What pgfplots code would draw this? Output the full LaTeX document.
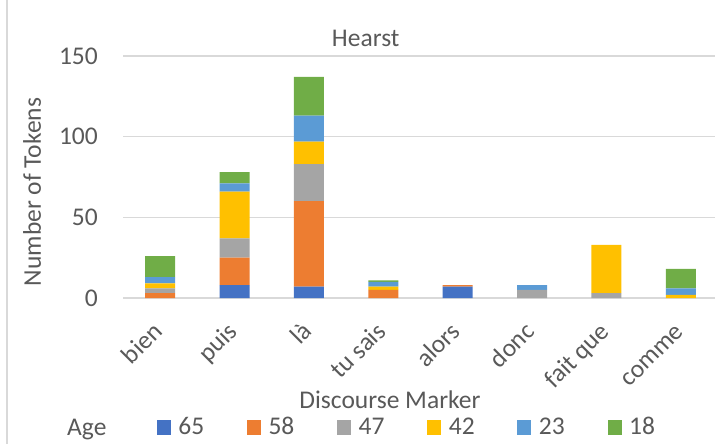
\documentclass[border=0pt]{standalone}
\usepackage{fontspec}
\setmainfont{Carlito}
\usepackage{pgfplots}
\pgfplotsset{compat=1.18}
\definecolor{cA}{HTML}{4472C4}
\definecolor{cB}{HTML}{ED7D31}
\definecolor{cC}{HTML}{A5A5A5}
\definecolor{cD}{HTML}{FFC000}
\definecolor{cE}{HTML}{5B9BD5}
\definecolor{cF}{HTML}{70AD47}
\definecolor{txt}{HTML}{595959}
\definecolor{grd}{HTML}{D9D9D9}
\pgfplotsset{sq/.style={fill=#1, draw=none, legend image code/.code={\fill[#1] (0bp,0bp) rectangle (14bp,15bp);}}}
\begin{document}
\fontsize{25.5bp}{30bp}\selectfont
\begin{tikzpicture}[font=\fontsize{25.5bp}{30bp}\selectfont]
\useasboundingbox (0,0) rectangle (715bp,444bp);
\draw[grd, line width=1.3bp] (7bp,0) -- (7bp,444bp);
\begin{axis}[
  at={(123bp,146bp)}, anchor=south west,
  scale only axis, width=592bp, height=242bp,
  ybar stacked, bar width=30bp,
  clip=false,
  xmin=-0.5, xmax=7.46, ymin=0, ymax=150,
  xtick={0,...,7},
  xticklabels={bien,puis,là,tu sais,alors,donc,fait que,comme},
  ytick={0,50,100,150},
  ymajorgrids, grid style={grd, line width=1.3bp},
  axis line style={draw=none},
  major tick length=0pt,
  /pgf/number format/assume math mode=true,
  tick label style={text=txt},
  yticklabel style={inner sep=0pt, xshift=-25bp},
  xticklabel style={inner sep=0pt, xshift=4bp, yshift=-35bp, rotate=45, anchor=base east},
  title={Hearst},
  title style={at={(axis description cs:0.41,1)}, anchor=base, yshift=3.5bp, inner sep=0pt, text=txt},
  xlabel={Discourse Marker},
  ylabel={Number of Tokens},
  every axis x label/.style={at={(axis description cs:0.451,0)}, anchor=base, yshift=-110bp, inner sep=0pt, text=txt},
  every axis y label/.style={at={(axis description cs:0,0.438)}, xshift=-91bp, rotate=90, anchor=center, inner sep=0pt, text=txt},
  legend columns=-1,
  legend style={draw=none, fill=none, inner sep=0pt, at={(axis description cs:0,0)}, xshift=33.7bp, yshift=-137bp, anchor=south west,
    cells={anchor=base west}, nodes={inner sep=0pt, text depth=0pt, text=txt},
    /tikz/every odd column/.append style={column sep=7.5bp},
    /tikz/every even column/.append style={column sep=42.8bp}},
]
\addplot[sq=cA] coordinates {(0,0) (1,8) (2,7) (3,0) (4,7) (5,0) (6,0) (7,0)};
\addplot[sq=cB] coordinates {(0,3) (1,17) (2,53) (3,5) (4,1) (5,0) (6,0) (7,0)};
\addplot[sq=cC] coordinates {(0,3) (1,12) (2,23) (3,0) (4,0) (5,5) (6,3) (7,0)};
\addplot[sq=cD] coordinates {(0,3) (1,29) (2,14) (3,2) (4,0) (5,0) (6,30) (7,2)};
\addplot[sq=cE] coordinates {(0,4) (1,5) (2,16) (3,3) (4,0) (5,3) (6,0) (7,4)};
\addplot[sq=cF] coordinates {(0,13) (1,7) (2,24) (3,1) (4,0) (5,0) (6,0) (7,12)};
\legend{65,58,47,42,23,18}
\node[anchor=base west, inner sep=0pt, text=txt, xshift=-56bp, yshift=-137bp] at (axis description cs:0,0) {Age};
\end{axis}
\end{tikzpicture}
\end{document}
